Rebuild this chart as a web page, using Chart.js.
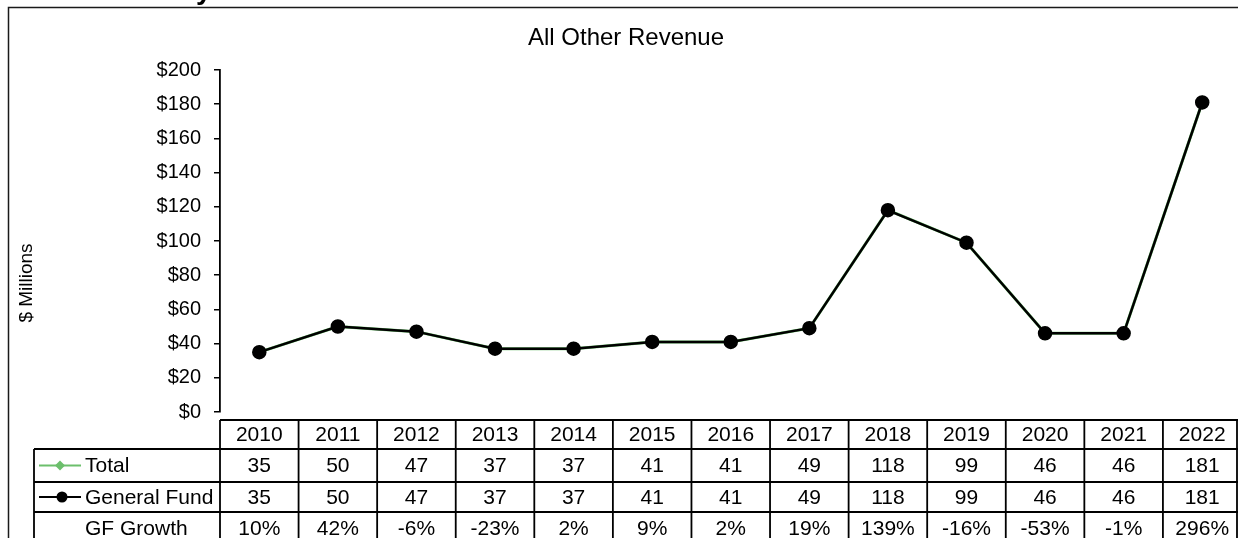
<!DOCTYPE html>
<html>
<head>
<meta charset="utf-8">
<script src="https://cdn.jsdelivr.net/npm/chart.js@4"></script>
<style>
    html, body { margin: 0; padding: 0; background: #ffffff; }
    #clip { width: 1238px; height: 538px; overflow: hidden; position: relative; }
    #wrap { width: 1250px; height: 538px; position: absolute; left: 0; top: 0; }
</style>
</head>
<body>
<div id="clip"><div id="wrap"><canvas id="otherRevenue"></canvas></div></div>
<script>
const years = ['2010', '2011', '2012', '2013', '2014', '2015', '2016', '2017', '2018', '2019', '2020', '2021', '2022'];
const totalValues = [35, 50, 47, 37, 37, 41, 41, 49, 118, 99, 46, 46, 181];
const generalFund = [35, 50, 47, 37, 37, 41, 41, 49, 118, 99, 46, 46, 181];
const gfGrowth = [10, 42, -6, -23, 2, 9, 2, 19, 139, -16, -53, -1, 296];
const yTicks = [0, 20, 40, 60, 80, 100, 120, 140, 160, 180, 200];

const fontFamily = "Arial, 'Liberation Sans', sans-serif";
const green = "#6cbf6c";

// frame, title, axis label and the data table under the plot
const tablePlugin = {
    id: 'dataTable',
    afterDraw(chart) {
        const c = chart.ctx;
        const area = chart.chartArea;
        const x = chart.scales.x;
        const colW = (area.right - area.left) / years.length;
        const rows = [420, 449, 482, 512, 545];

        c.save();
        // heading glyph cut off above the frame
        c.fillStyle = "#000";
        c.font = "bold 28px " + fontFamily;
        c.textAlign = 'left';
        c.textBaseline = 'alphabetic';
        c.fillText('y', 196, -1);

        // outer frame
        c.strokeStyle = "#1a1a1a";
        c.lineWidth = 1.5;
        c.beginPath();
        c.moveTo(8.5, 545);
        c.lineTo(8.5, 7.5);
        c.lineTo(1250, 7.5);
        c.stroke();

        // title
        c.font = "24px " + fontFamily;
        c.textAlign = 'center';
        c.textBaseline = 'middle';
        c.fillText('All Other Revenue', 626, 38);

        // axis title
        c.save();
        c.translate(27, 283);
        c.rotate(-Math.PI / 2);
        c.font = "19px " + fontFamily;
        c.fillText('$ Millions', 0, 0);
        c.restore();

        // table grid
        c.strokeStyle = "#000";
        c.lineWidth = 1.8;
        c.beginPath();
        c.moveTo(area.left, rows[0]);
        c.lineTo(area.right, rows[0]);
        for (let r = 1; r < rows.length; r++) {
            c.moveTo(34, rows[r]);
            c.lineTo(area.right, rows[r]);
        }
        c.moveTo(34, rows[1]);
        c.lineTo(34, rows[4]);
        for (let i = 0; i <= years.length; i++) {
            const bx = Math.min(area.left + i * colW, 1237);
            c.moveTo(bx, rows[0]);
            c.lineTo(bx, rows[4]);
        }
        c.stroke();

        // cell text
        c.fillStyle = "#000";
        c.font = "21px " + fontFamily;
        c.textAlign = 'center';
        c.textBaseline = 'middle';
        years.forEach((yr, i) => {
            const cx = x.getPixelForValue(i);
            c.fillText(yr, cx, (rows[0] + rows[1]) / 2 + 1);
            c.fillText(String(totalValues[i]), cx, (rows[1] + rows[2]) / 2 + 1);
            c.fillText(String(generalFund[i]), cx, (rows[2] + rows[3]) / 2 + 1);
            c.fillText(gfGrowth[i] + '%', cx, (rows[3] + rows[4]) / 2 + 1);
        });

        // row labels with legend keys
        c.textAlign = 'left';
        c.fillText('Total', 85, (rows[1] + rows[2]) / 2 + 1);
        c.fillText('General Fund', 85, (rows[2] + rows[3]) / 2 + 1);
        c.fillText('GF Growth', 85, (rows[3] + rows[4]) / 2 + 1);

        let ky = (rows[1] + rows[2]) / 2;
        c.strokeStyle = green;
        c.fillStyle = green;
        c.lineWidth = 2;
        c.beginPath();
        c.moveTo(39, ky);
        c.lineTo(81, ky);
        c.stroke();
        c.beginPath();
        c.moveTo(60, ky - 5);
        c.lineTo(65, ky);
        c.lineTo(60, ky + 5);
        c.lineTo(55, ky);
        c.closePath();
        c.fill();

        ky = (rows[2] + rows[3]) / 2;
        c.strokeStyle = "#000";
        c.fillStyle = "#000";
        c.beginPath();
        c.moveTo(39, ky);
        c.lineTo(81, ky);
        c.stroke();
        c.beginPath();
        c.arc(62, ky, 5.5, 0, Math.PI * 2);
        c.fill();
        c.restore();
    }
};

const ctx = document.getElementById('otherRevenue').getContext('2d');
new Chart(ctx, {
    type: 'line',
    data: {
        labels: years,
        datasets: [{
            label: 'General Fund',
            data: generalFund,
            borderColor: "#000000",
            backgroundColor: "#000000",
            borderWidth: 2.5,
            pointRadius: 6,
            pointStyle: 'circle',
            tension: 0,
            order: 1
        }, {
            label: 'Total',
            data: totalValues,
            borderColor: green,
            backgroundColor: green,
            borderWidth: 3,
            pointRadius: 5,
            pointStyle: 'rectRot',
            tension: 0,
            order: 2
        }]
    },
    options: {
        responsive: true,
        maintainAspectRatio: false,
        animation: false,
        layout: {
            padding: { top: 70, bottom: 118, left: 0, right: 0 }
        },
        scales: {
            x: {
                offset: true,
                grid: { display: false },
                border: { display: false },
                ticks: { display: false }
            },
            y: {
                min: 0,
                max: 200,
                afterFit(scale) { scale.width = 220; },
                afterBuildTicks(scale) { scale.ticks = yTicks.map(v => ({ value: v })); },
                grid: {
                    drawOnChartArea: false,
                    drawTicks: true,
                    tickLength: 6,
                    color: "#000",
                    lineWidth: 1.5
                },
                border: { display: true, color: "#000", width: 1.8 },
                ticks: {
                    color: "#000",
                    padding: 13,
                    font: { family: fontFamily, size: 20 },
                    callback: v => '$' + v
                }
            }
        },
        plugins: {
            legend: { display: false },
            tooltip: { enabled: false },
            title: { display: false }
        }
    },
    plugins: [tablePlugin]
});
</script>
</body>
</html>
